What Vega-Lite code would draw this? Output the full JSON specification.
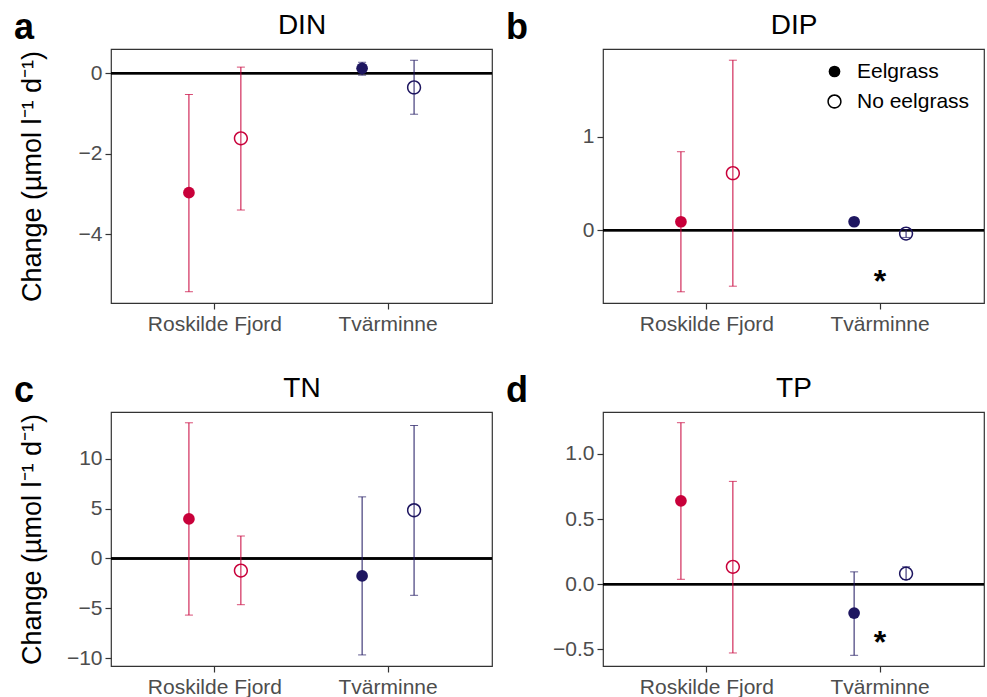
{
  "$schema": "https://vega.github.io/schema/vega-lite/v6.json",
  "padding": {"left": 13, "top": 9, "right": 2, "bottom": 2},
  "background": "white",
  "datasets": {
    "pts": [
      {"panel": "DIN", "site": "Roskilde Fjord", "treatment": "Eelgrass", "mean": -2.97, "lo": -5.43, "hi": -0.53},
      {"panel": "DIN", "site": "Roskilde Fjord", "treatment": "No eelgrass", "mean": -1.62, "lo": -3.40, "hi": 0.15},
      {"panel": "DIN", "site": "Tvärminne", "treatment": "Eelgrass", "mean": 0.12, "lo": -0.05, "hi": 0.27},
      {"panel": "DIN", "site": "Tvärminne", "treatment": "No eelgrass", "mean": -0.355, "lo": -1.02, "hi": 0.32},
      {"panel": "DIP", "site": "Roskilde Fjord", "treatment": "Eelgrass", "mean": 0.09, "lo": -0.66, "hi": 0.84},
      {"panel": "DIP", "site": "Roskilde Fjord", "treatment": "No eelgrass", "mean": 0.61, "lo": -0.60, "hi": 1.82},
      {"panel": "DIP", "site": "Tvärminne", "treatment": "Eelgrass", "mean": 0.09, "lo": 0.07, "hi": 0.11},
      {"panel": "DIP", "site": "Tvärminne", "treatment": "No eelgrass", "mean": -0.036, "lo": -0.078, "hi": 0.005},
      {"panel": "TN", "site": "Roskilde Fjord", "treatment": "Eelgrass", "mean": 3.96, "lo": -5.67, "hi": 13.59},
      {"panel": "TN", "site": "Roskilde Fjord", "treatment": "No eelgrass", "mean": -1.21, "lo": -4.63, "hi": 2.25},
      {"panel": "TN", "site": "Tvärminne", "treatment": "Eelgrass", "mean": -1.75, "lo": -9.66, "hi": 6.17},
      {"panel": "TN", "site": "Tvärminne", "treatment": "No eelgrass", "mean": 4.83, "lo": -3.69, "hi": 13.32},
      {"panel": "TP", "site": "Roskilde Fjord", "treatment": "Eelgrass", "mean": 0.64, "lo": 0.038, "hi": 1.239},
      {"panel": "TP", "site": "Roskilde Fjord", "treatment": "No eelgrass", "mean": 0.134, "lo": -0.527, "hi": 0.789},
      {"panel": "TP", "site": "Tvärminne", "treatment": "Eelgrass", "mean": -0.221, "lo": -0.545, "hi": 0.095},
      {"panel": "TP", "site": "Tvärminne", "treatment": "No eelgrass", "mean": 0.082, "lo": 0.036, "hi": 0.134}
    ],
    "stars": [
      {"panel": "DIP", "site": "Tvärminne", "value": -0.56},
      {"panel": "TP", "site": "Tvärminne", "value": -0.45}
    ]
  },
  "config": {
    "font": "Liberation Sans",
    "view": {"stroke": "#333333", "strokeWidth": 1.2},
    "axis": {"grid": false, "domain": false, "tickColor": "#333333", "tickSize": 6, "tickWidth": 1.2, "labelFontSize": 21, "labelColor": "#4D4D4D", "labelPadding": 3, "titleFontSize": 27, "titleFontWeight": "normal", "titleColor": "black"},
    "axisX": {"labelPadding": 4, "labelAngle": 0, "labelAlign": "center", "labelBaseline": "top"},
    "title": {"fontSize": 36, "fontWeight": "bold", "color": "black", "anchor": "start", "frame": "bounds", "baseline": "alphabetic", "offset": 0, "dy": 40, "dx": -4},
    "legend": {"title": null, "orient": "none", "legendX": 713, "legendY": 12, "labelFontSize": 21, "labelColor": "black", "labelOffset": 12, "rowPadding": 8, "symbolSize": 137, "symbolStrokeWidth": 0, "symbolFillColor": "black", "symbolStrokeColor": "black", "symbolOpacity": 1}
  },
  "columns": 2,
  "spacing": {"row": 37, "column": 11},
  "concat": [
    {
      "width": 381, "height": 254,
      "title": "a",
      "data": {"name": "pts"},
      "transform": [{"filter": "datum.panel === 'DIN'"}],
      "resolve": {"axis": {"x": "independent"}},
      "layer": [
        {"mark": {"type": "rule", "color": "black", "strokeWidth": 2}, "encoding": {"y": {"datum": 0, "type": "quantitative"}}},
        {"mark": {"type": "rule", "strokeWidth": 1},
         "encoding": {
           "x": {"field": "site", "type": "nominal", "scale": {"domain": ["Roskilde Fjord", "Tvärminne"], "paddingInner": 0.4, "paddingOuter": 0.3}, "axis": {"orient": "top", "title": "DIN", "labels": false, "ticks": false, "domain": false, "titleFontSize": 28, "titleBaseline": "alphabetic", "titlePadding": 16}},
           "xOffset": {"field": "treatment", "type": "nominal", "scale": {"domain": ["Eelgrass", "No eelgrass"], "paddingInner": 0, "paddingOuter": 0}},
           "y": {"field": "lo", "type": "quantitative"}, "y2": {"field": "hi"},
           "color": {"field": "site", "type": "nominal", "scale": {"domain": ["Roskilde Fjord", "Tvärminne"], "range": ["#C8003A", "#1E1660"]}, "legend": null}}},
        {"mark": {"type": "tick", "size": 8, "thickness": 1},
         "encoding": {
           "x": {"field": "site", "type": "nominal", "scale": {"domain": ["Roskilde Fjord", "Tvärminne"], "paddingInner": 0.4, "paddingOuter": 0.3}, "axis": null},
           "xOffset": {"field": "treatment", "type": "nominal", "scale": {"domain": ["Eelgrass", "No eelgrass"], "paddingInner": 0, "paddingOuter": 0}},
           "y": {"field": "lo", "type": "quantitative"},
           "color": {"field": "site", "type": "nominal", "scale": {"domain": ["Roskilde Fjord", "Tvärminne"], "range": ["#C8003A", "#1E1660"]}, "legend": null}}},
        {"mark": {"type": "tick", "size": 8, "thickness": 1},
         "encoding": {
           "x": {"field": "site", "type": "nominal", "scale": {"domain": ["Roskilde Fjord", "Tvärminne"], "paddingInner": 0.4, "paddingOuter": 0.3}, "axis": null},
           "xOffset": {"field": "treatment", "type": "nominal", "scale": {"domain": ["Eelgrass", "No eelgrass"], "paddingInner": 0, "paddingOuter": 0}},
           "y": {"field": "hi", "type": "quantitative"},
           "color": {"field": "site", "type": "nominal", "scale": {"domain": ["Roskilde Fjord", "Tvärminne"], "range": ["#C8003A", "#1E1660"]}, "legend": null}}},
        {"mark": {"type": "point", "filled": true, "size": 137, "strokeWidth": 0, "opacity": 1},
         "encoding": {
           "x": {"field": "site", "type": "nominal", "scale": {"domain": ["Roskilde Fjord", "Tvärminne"], "paddingInner": 0.4, "paddingOuter": 0.3}, "axis": {"title": null}},
           "xOffset": {"field": "treatment", "type": "nominal", "scale": {"domain": ["Eelgrass", "No eelgrass"], "paddingInner": 0, "paddingOuter": 0}},
           "y": {"field": "mean", "type": "quantitative", "scale": {"domain": [-5.71, 0.6], "nice": false, "zero": false}, "axis": {"title": "Change (µmol l⁻¹ d⁻¹)", "values": [-4, -2, 0], "format": "d", "titleX": -65}},
           "fill": {"field": "site", "type": "nominal", "scale": {"domain": ["Roskilde Fjord", "Tvärminne"], "range": ["#C8003A", "#1E1660"]}, "legend": null},
           "shape": {"field": "treatment", "type": "nominal", "title": null, "scale": {"domain": ["Eelgrass", "No eelgrass"], "range": ["circle", "M1.22,0A1.22,1.22,0,1,1,-1.22,0A1.22,1.22,0,1,1,1.22,0ZM0.96,0A0.96,0.96,0,1,0,-0.96,0A0.96,0.96,0,1,0,0.96,0Z"]}}}}
      ]
    },
    {
      "width": 381, "height": 254,
      "title": "b",
      "data": {"name": "pts"},
      "transform": [{"filter": "datum.panel === 'DIP'"}],
      "resolve": {"axis": {"x": "independent"}},
      "layer": [
        {"mark": {"type": "rule", "color": "black", "strokeWidth": 2}, "encoding": {"y": {"datum": 0, "type": "quantitative"}}},
        {"mark": {"type": "rule", "strokeWidth": 1},
         "encoding": {
           "x": {"field": "site", "type": "nominal", "scale": {"domain": ["Roskilde Fjord", "Tvärminne"], "paddingInner": 0.4, "paddingOuter": 0.3}, "axis": {"orient": "top", "title": "DIP", "labels": false, "ticks": false, "domain": false, "titleFontSize": 28, "titleBaseline": "alphabetic", "titlePadding": 16}},
           "xOffset": {"field": "treatment", "type": "nominal", "scale": {"domain": ["Eelgrass", "No eelgrass"], "paddingInner": 0, "paddingOuter": 0}},
           "y": {"field": "lo", "type": "quantitative"}, "y2": {"field": "hi"},
           "color": {"field": "site", "type": "nominal", "scale": {"domain": ["Roskilde Fjord", "Tvärminne"], "range": ["#C8003A", "#1E1660"]}, "legend": null}}},
        {"mark": {"type": "tick", "size": 8, "thickness": 1},
         "encoding": {
           "x": {"field": "site", "type": "nominal", "scale": {"domain": ["Roskilde Fjord", "Tvärminne"], "paddingInner": 0.4, "paddingOuter": 0.3}, "axis": null},
           "xOffset": {"field": "treatment", "type": "nominal", "scale": {"domain": ["Eelgrass", "No eelgrass"], "paddingInner": 0, "paddingOuter": 0}},
           "y": {"field": "lo", "type": "quantitative"},
           "color": {"field": "site", "type": "nominal", "scale": {"domain": ["Roskilde Fjord", "Tvärminne"], "range": ["#C8003A", "#1E1660"]}, "legend": null}}},
        {"mark": {"type": "tick", "size": 8, "thickness": 1},
         "encoding": {
           "x": {"field": "site", "type": "nominal", "scale": {"domain": ["Roskilde Fjord", "Tvärminne"], "paddingInner": 0.4, "paddingOuter": 0.3}, "axis": null},
           "xOffset": {"field": "treatment", "type": "nominal", "scale": {"domain": ["Eelgrass", "No eelgrass"], "paddingInner": 0, "paddingOuter": 0}},
           "y": {"field": "hi", "type": "quantitative"},
           "color": {"field": "site", "type": "nominal", "scale": {"domain": ["Roskilde Fjord", "Tvärminne"], "range": ["#C8003A", "#1E1660"]}, "legend": null}}},
        {"mark": {"type": "point", "filled": true, "size": 137, "strokeWidth": 0, "opacity": 1},
         "encoding": {
           "x": {"field": "site", "type": "nominal", "scale": {"domain": ["Roskilde Fjord", "Tvärminne"], "paddingInner": 0.4, "paddingOuter": 0.3}, "axis": {"title": null}},
           "xOffset": {"field": "treatment", "type": "nominal", "scale": {"domain": ["Eelgrass", "No eelgrass"], "paddingInner": 0, "paddingOuter": 0}},
           "y": {"field": "mean", "type": "quantitative", "scale": {"domain": [-0.78, 1.94], "nice": false, "zero": false}, "axis": {"title": "Change (µmol l⁻¹ d⁻¹)", "titleOpacity": 0, "values": [0, 1], "format": "d", "titleX": -65}},
           "fill": {"field": "site", "type": "nominal", "scale": {"domain": ["Roskilde Fjord", "Tvärminne"], "range": ["#C8003A", "#1E1660"]}, "legend": null},
           "shape": {"field": "treatment", "type": "nominal", "title": null, "scale": {"domain": ["Eelgrass", "No eelgrass"], "range": ["circle", "M1.22,0A1.22,1.22,0,1,1,-1.22,0A1.22,1.22,0,1,1,1.22,0ZM0.96,0A0.96,0.96,0,1,0,-0.96,0A0.96,0.96,0,1,0,0.96,0Z"]}}}},
        {"data": {"name": "stars"}, "transform": [{"filter": "datum.panel === 'DIP'"}],
         "mark": {"type": "text", "text": "*", "fontSize": 32, "fontWeight": "bold", "color": "black", "baseline": "middle"},
         "encoding": {
           "x": {"field": "site", "type": "nominal", "scale": {"domain": ["Roskilde Fjord", "Tvärminne"], "paddingInner": 0.4, "paddingOuter": 0.3}, "axis": null},
           "y": {"field": "value", "type": "quantitative"}}}
      ]
    },
    {
      "width": 381, "height": 254,
      "title": "c",
      "data": {"name": "pts"},
      "transform": [{"filter": "datum.panel === 'TN'"}],
      "resolve": {"axis": {"x": "independent"}},
      "layer": [
        {"mark": {"type": "rule", "color": "black", "strokeWidth": 2}, "encoding": {"y": {"datum": 0, "type": "quantitative"}}},
        {"mark": {"type": "rule", "strokeWidth": 1},
         "encoding": {
           "x": {"field": "site", "type": "nominal", "scale": {"domain": ["Roskilde Fjord", "Tvärminne"], "paddingInner": 0.4, "paddingOuter": 0.3}, "axis": {"orient": "top", "title": "TN", "labels": false, "ticks": false, "domain": false, "titleFontSize": 28, "titleBaseline": "alphabetic", "titlePadding": 16}},
           "xOffset": {"field": "treatment", "type": "nominal", "scale": {"domain": ["Eelgrass", "No eelgrass"], "paddingInner": 0, "paddingOuter": 0}},
           "y": {"field": "lo", "type": "quantitative"}, "y2": {"field": "hi"},
           "color": {"field": "site", "type": "nominal", "scale": {"domain": ["Roskilde Fjord", "Tvärminne"], "range": ["#C8003A", "#1E1660"]}, "legend": null}}},
        {"mark": {"type": "tick", "size": 8, "thickness": 1},
         "encoding": {
           "x": {"field": "site", "type": "nominal", "scale": {"domain": ["Roskilde Fjord", "Tvärminne"], "paddingInner": 0.4, "paddingOuter": 0.3}, "axis": null},
           "xOffset": {"field": "treatment", "type": "nominal", "scale": {"domain": ["Eelgrass", "No eelgrass"], "paddingInner": 0, "paddingOuter": 0}},
           "y": {"field": "lo", "type": "quantitative"},
           "color": {"field": "site", "type": "nominal", "scale": {"domain": ["Roskilde Fjord", "Tvärminne"], "range": ["#C8003A", "#1E1660"]}, "legend": null}}},
        {"mark": {"type": "tick", "size": 8, "thickness": 1},
         "encoding": {
           "x": {"field": "site", "type": "nominal", "scale": {"domain": ["Roskilde Fjord", "Tvärminne"], "paddingInner": 0.4, "paddingOuter": 0.3}, "axis": null},
           "xOffset": {"field": "treatment", "type": "nominal", "scale": {"domain": ["Eelgrass", "No eelgrass"], "paddingInner": 0, "paddingOuter": 0}},
           "y": {"field": "hi", "type": "quantitative"},
           "color": {"field": "site", "type": "nominal", "scale": {"domain": ["Roskilde Fjord", "Tvärminne"], "range": ["#C8003A", "#1E1660"]}, "legend": null}}},
        {"mark": {"type": "point", "filled": true, "size": 137, "strokeWidth": 0, "opacity": 1},
         "encoding": {
           "x": {"field": "site", "type": "nominal", "scale": {"domain": ["Roskilde Fjord", "Tvärminne"], "paddingInner": 0.4, "paddingOuter": 0.3}, "axis": {"title": null}},
           "xOffset": {"field": "treatment", "type": "nominal", "scale": {"domain": ["Eelgrass", "No eelgrass"], "paddingInner": 0, "paddingOuter": 0}},
           "y": {"field": "mean", "type": "quantitative", "scale": {"domain": [-10.77, 14.67], "nice": false, "zero": false}, "axis": {"title": "Change (µmol l⁻¹ d⁻¹)", "values": [-10, -5, 0, 5, 10], "format": "d", "titleX": -65}},
           "fill": {"field": "site", "type": "nominal", "scale": {"domain": ["Roskilde Fjord", "Tvärminne"], "range": ["#C8003A", "#1E1660"]}, "legend": null},
           "shape": {"field": "treatment", "type": "nominal", "title": null, "scale": {"domain": ["Eelgrass", "No eelgrass"], "range": ["circle", "M1.22,0A1.22,1.22,0,1,1,-1.22,0A1.22,1.22,0,1,1,1.22,0ZM0.96,0A0.96,0.96,0,1,0,-0.96,0A0.96,0.96,0,1,0,0.96,0Z"]}}}}
      ]
    },
    {
      "width": 381, "height": 254,
      "title": "d",
      "data": {"name": "pts"},
      "transform": [{"filter": "datum.panel === 'TP'"}],
      "resolve": {"axis": {"x": "independent"}},
      "layer": [
        {"mark": {"type": "rule", "color": "black", "strokeWidth": 2}, "encoding": {"y": {"datum": 0, "type": "quantitative"}}},
        {"mark": {"type": "rule", "strokeWidth": 1},
         "encoding": {
           "x": {"field": "site", "type": "nominal", "scale": {"domain": ["Roskilde Fjord", "Tvärminne"], "paddingInner": 0.4, "paddingOuter": 0.3}, "axis": {"orient": "top", "title": "TP", "labels": false, "ticks": false, "domain": false, "titleFontSize": 28, "titleBaseline": "alphabetic", "titlePadding": 16}},
           "xOffset": {"field": "treatment", "type": "nominal", "scale": {"domain": ["Eelgrass", "No eelgrass"], "paddingInner": 0, "paddingOuter": 0}},
           "y": {"field": "lo", "type": "quantitative"}, "y2": {"field": "hi"},
           "color": {"field": "site", "type": "nominal", "scale": {"domain": ["Roskilde Fjord", "Tvärminne"], "range": ["#C8003A", "#1E1660"]}, "legend": null}}},
        {"mark": {"type": "tick", "size": 8, "thickness": 1},
         "encoding": {
           "x": {"field": "site", "type": "nominal", "scale": {"domain": ["Roskilde Fjord", "Tvärminne"], "paddingInner": 0.4, "paddingOuter": 0.3}, "axis": null},
           "xOffset": {"field": "treatment", "type": "nominal", "scale": {"domain": ["Eelgrass", "No eelgrass"], "paddingInner": 0, "paddingOuter": 0}},
           "y": {"field": "lo", "type": "quantitative"},
           "color": {"field": "site", "type": "nominal", "scale": {"domain": ["Roskilde Fjord", "Tvärminne"], "range": ["#C8003A", "#1E1660"]}, "legend": null}}},
        {"mark": {"type": "tick", "size": 8, "thickness": 1},
         "encoding": {
           "x": {"field": "site", "type": "nominal", "scale": {"domain": ["Roskilde Fjord", "Tvärminne"], "paddingInner": 0.4, "paddingOuter": 0.3}, "axis": null},
           "xOffset": {"field": "treatment", "type": "nominal", "scale": {"domain": ["Eelgrass", "No eelgrass"], "paddingInner": 0, "paddingOuter": 0}},
           "y": {"field": "hi", "type": "quantitative"},
           "color": {"field": "site", "type": "nominal", "scale": {"domain": ["Roskilde Fjord", "Tvärminne"], "range": ["#C8003A", "#1E1660"]}, "legend": null}}},
        {"mark": {"type": "point", "filled": true, "size": 137, "strokeWidth": 0, "opacity": 1},
         "encoding": {
           "x": {"field": "site", "type": "nominal", "scale": {"domain": ["Roskilde Fjord", "Tvärminne"], "paddingInner": 0.4, "paddingOuter": 0.3}, "axis": {"title": null}},
           "xOffset": {"field": "treatment", "type": "nominal", "scale": {"domain": ["Eelgrass", "No eelgrass"], "paddingInner": 0, "paddingOuter": 0}},
           "y": {"field": "mean", "type": "quantitative", "scale": {"domain": [-0.627, 1.321], "nice": false, "zero": false}, "axis": {"title": "Change (µmol l⁻¹ d⁻¹)", "titleOpacity": 0, "values": [-0.5, 0, 0.5, 1], "format": ".1f", "titleX": -65}},
           "fill": {"field": "site", "type": "nominal", "scale": {"domain": ["Roskilde Fjord", "Tvärminne"], "range": ["#C8003A", "#1E1660"]}, "legend": null},
           "shape": {"field": "treatment", "type": "nominal", "title": null, "scale": {"domain": ["Eelgrass", "No eelgrass"], "range": ["circle", "M1.22,0A1.22,1.22,0,1,1,-1.22,0A1.22,1.22,0,1,1,1.22,0ZM0.96,0A0.96,0.96,0,1,0,-0.96,0A0.96,0.96,0,1,0,0.96,0Z"]}}}},
        {"data": {"name": "stars"}, "transform": [{"filter": "datum.panel === 'TP'"}],
         "mark": {"type": "text", "text": "*", "fontSize": 32, "fontWeight": "bold", "color": "black", "baseline": "middle"},
         "encoding": {
           "x": {"field": "site", "type": "nominal", "scale": {"domain": ["Roskilde Fjord", "Tvärminne"], "paddingInner": 0.4, "paddingOuter": 0.3}, "axis": null},
           "y": {"field": "value", "type": "quantitative"}}}
      ]
    }
  ]
}
